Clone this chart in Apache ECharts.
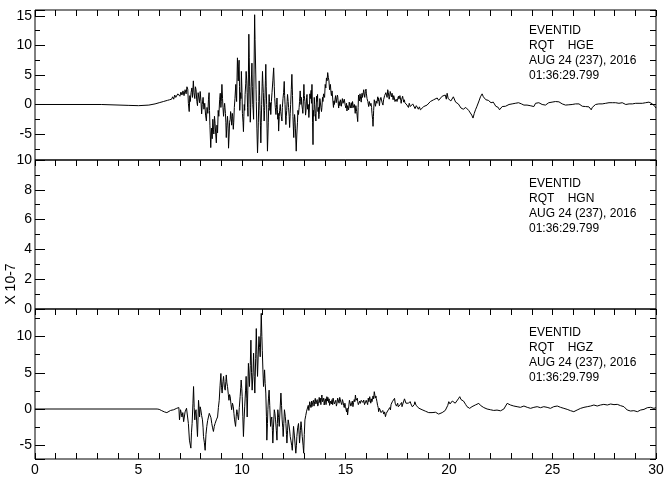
<!DOCTYPE html>
<html>
<head>
<meta charset="utf-8">
<script src="https://cdn.jsdelivr.net/npm/echarts@6.0.0/dist/echarts.min.js"></script>
<style>
html,body{margin:0;padding:0;background:#fff;}
#chart{width:672px;height:490px;}
</style>
</head>
<body>
<div id="chart"></div>
<script>
// ---- Data (time in s, amplitude in units of 10^-7) ----
const hgeSamples = [[0,0],[3.2,0],[3.25,-0.1],[4.5,-0.15],[5.0,-0.2],[5.5,-0.1],[5.8,0.1],[6.0,0.3],[6.2,0.5],[6.4,0.7],[6.5,0.8],[6.55,1.1],[6.6,0.9],[6.65,1.3],[6.7,0.9],[6.75,1.6],[6.8,1.2],[6.85,1.1],[6.9,1.8],[6.95,1.5],[7.0,1.4],[7.05,2.1],[7.1,1.6],[7.15,2.3],[7.2,1.5],[7.25,2.5],
[7.3,1.8],[7.34,3.0],[7.38,2.6],[7.41,0.2],[7.45,-1.2],[7.48,1.5],[7.5,0.5],[7.54,2.0],[7.58,2.8],[7.61,1.2],[7.65,4.0],[7.68,2.0],[7.72,1.0],[7.75,3.0],[7.78,2.5],[7.82,0.5],[7.85,-0.2],[7.88,2.0],[7.92,1.7],[7.95,0.3],[7.98,2.2],[8.02,0.5],[8.05,-1.6],[8.08,0.0],[8.12,1.2],[8.16,-0.8],[8.2,0.2],[8.24,-1.8],[8.28,-2.8],[8.31,-0.5],[8.35,-1.5],[8.38,0.8],[8.41,2.0],[8.43,-1.0],[8.45,-3.5],[8.49,-7.3],[8.51,-5.5],[8.53,-4.0],[8.56,-5.8],[8.59,-2.5],[8.62,-4.2],[8.64,-5.0],[8.67,-2.0],[8.7,-3.2],[8.73,-5.0],[8.76,-6.5],[8.79,-3.5],[8.82,-4.8],[8.85,-1.0],[8.88,-2.0],[8.92,0.8],[8.95,1.9],[8.98,-0.5],[9.0,0.5],
[9.03,3.4],[9.06,1.0],[9.08,-0.5],[9.11,-2.0],[9.14,-0.5],[9.16,0.2],[9.2,-1.5],[9.22,-3.0],[9.24,-5.6],[9.27,-3.5],[9.3,-2.0],[9.33,-4.0],[9.35,-7.4],[9.38,-5.0],[9.4,-3.0],[9.43,-2.5],[9.45,-1.2],[9.48,-2.4],[9.5,-3.5],[9.53,-1.5],[9.55,-2.0],[9.58,-4.2],[9.6,-3.0],[9.63,-0.5],[9.66,1.0],[9.7,3.4],[9.72,1.5],[9.74,0.5],[9.76,4.5],[9.78,7.9],[9.8,6.0],[9.82,4.0],[9.84,6.5],[9.86,7.5],[9.88,3.0],[9.89,-1.0],[9.91,0.5],[9.93,2.0],[9.95,1.0],[9.97,5.6],[10.0,2.0],[10.02,-1.5],[10.05,-3.0],[10.07,-4.6],[10.09,-2.0],[10.11,0.0],[10.13,-1.0],[10.15,1.7],[10.18,3.5],[10.2,5.6],[10.23,4.0],[10.25,2.0],[10.27,-0.5],[10.29,-2.0],[10.31,5.0],[10.33,11.9],[10.35,8.0],[10.37,3.0],[10.39,0.0],[10.4,-3.0],[10.42,-0.5],[10.44,2.8],[10.46,5.0],[10.48,7.0],[10.5,3.0],[10.52,0.0],[10.54,-1.0],[10.56,-2.5],[10.58,5.0],[10.61,15.2],[10.63,11.0],[10.66,6.0],[10.68,2.5],[10.69,0.5],[10.72,-4.0],[10.75,-8.2],[10.77,-6.0],[10.79,-3.0],[10.81,0.5],[10.83,4.0],[10.85,1.5],[10.87,-1.0],[10.89,-3.5],[10.91,-6.5],[10.93,-3.0],[10.95,0.0],[10.97,3.0],[10.99,5.6],[11.01,3.5],[11.03,2.0],[11.05,-0.5],[11.07,-2.8],[11.09,-1.0],[11.11,1.0],[11.13,4.0],[11.15,6.8],[11.17,3.0],[11.19,0.0],[11.21,-4.0],[11.23,-7.9],[11.25,-5.5],[11.27,-3.0],[11.29,-0.5],[11.31,1.7],[11.33,0.5],[11.35,-1.0],[11.37,0.3],[11.39,-1.7],[11.42,0.5],[11.45,2.0],[11.49,4.0],[11.53,6.2],[11.56,3.0],[11.58,1.0],[11.61,-0.5],[11.64,-1.7],[11.67,0.0],[11.69,1.1],[11.71,-0.8],[11.73,-2.5],[11.75,-1.5],[11.77,-4.5],[11.8,-2.0],[11.82,-1.0],[11.85,0.0],[11.87,-1.2],[11.9,-2.0],[11.93,-2.8],[11.95,-0.5],[11.98,1.0],[12.01,2.0],[12.04,3.9],[12.06,1.5],[12.08,0.0],[12.1,-1.8],[12.12,-3.4],[12.14,-2.0],[12.16,-1.0],[12.18,0.5],[12.2,1.7],[12.23,0.5],[12.25,-0.5],[12.28,-2.0],[12.3,-3.9],[12.33,-1.5],[12.35,0.0],[12.38,2.5],[12.41,5.1],[12.44,1.5],[12.46,-2.0],[12.48,-3.8],[12.5,-5.6],[12.52,-3.0],[12.54,-1.7],[12.56,-2.5],[12.58,-4.0],[12.6,-6.0],[12.62,-7.9],[12.65,-5.0],[12.68,-3.0],[12.7,-1.0],[12.73,-1.7],[12.76,-0.5],[12.78,0.5],[12.81,2.3],[12.83,1.0],[12.85,0.0],[12.87,1.2],[12.89,0.0],[12.92,-0.8],[12.94,-1.5],[12.97,1.0],[12.99,3.4],[13.01,1.5],
[13.04,0.5],[13.07,-1.8],[13.09,-1.1],[13.12,1.2],[13.14,1.7],[13.17,-0.8],[13.2,0.0],[13.23,-2.2],[13.25,-1.1],[13.28,1.8],[13.3,1.0],[13.34,2.4],[13.36,0.2],[13.38,3.4],[13.41,-3.0],[13.43,-6.8],[13.45,-1.0],[13.47,-2.0],[13.49,1.2],[13.51,0.0],[13.54,-1.5],[13.57,-2.8],[13.6,1.4],[13.62,0.5],[13.65,1.7],[13.67,-1.2],[13.69,-0.5],[13.71,-2.4],[13.73,-1.7],[13.76,1.0],[13.78,0.8],[13.81,1.1],[13.84,-1.2],[13.86,-0.5],[13.89,1.2],[13.91,0.5],[13.94,1.8],[13.96,2.0],[13.99,1.2],[14.02,3.4],[14.05,2.8],[14.08,4.5],[14.11,4.0],[14.14,5.4],[14.17,4.6],[14.2,4.0],[14.23,2.5],[14.27,3.4],[14.3,2.0],[14.32,1.5],[14.35,2.3],[14.38,1.1],[14.4,0.2],[14.42,-0.5],[14.44,0.6],[14.46,0.0],[14.49,0.8],[14.52,1.5],[14.55,0.3],[14.59,0.5],[14.61,1.6],[14.63,1.2],[14.65,0.1],[14.67,-0.6],[14.69,0.5],[14.71,0.8],[14.73,-0.2],[14.75,0.8],[14.78,0.3],[14.8,-0.3],[14.83,0.6],[14.85,1.0],[14.88,0.2],[14.91,0.0],[14.94,0.9],[14.96,0.6],[14.99,-0.2],[15.02,-0.6],[15.05,0.2],
[15.07,-1.1],[15.1,-0.2],[15.12,-0.3],[15.15,-0.9],[15.18,0.4],[15.2,0.2],[15.23,-0.6],[15.25,-0.4],[15.28,0.3],[15.31,-0.6],[15.34,0.5],[15.36,0.3],[15.38,-0.5],[15.4,-0.8],[15.43,0.0],[15.47,-1.5],[15.5,-0.2],[15.52,-0.5],[15.54,-1.2],[15.56,-1.8],[15.59,-2.9],[15.61,-0.5],[15.63,1.6],[15.66,1.0],[15.68,0.6],[15.7,1.8],[15.72,1.5],[15.74,0.8],[15.76,0.4],[15.78,1.4],[15.8,1.9],[15.82,1.2],[15.84,1.0],[15.86,2.0],[15.88,2.5],[15.9,1.8],[15.93,1.2],[15.96,2.2],[15.99,2.6],[16.01,1.8],[16.04,1.0],[16.06,1.3],[16.08,0.5],[16.1,0.8],[16.12,-0.35],[16.15,0.5],[16.17,0.8],[16.2,-0.2],[16.23,0.2],[16.26,-0.5],[16.28,-1.5],[16.31,-2.5],[16.33,-3.7],[16.35,-2.0],[16.36,-1.0],[16.39,0.8],[16.42,0.2],[16.45,-0.3],[16.48,0.6],[16.52,0.2],[16.54,0.9],[16.56,1.3],[16.58,0.6],[16.6,1.1],[16.62,0.4],[16.64,-0.2],[16.66,0.6],[16.68,0.5],[16.71,1.2],[16.74,1.0],[16.77,0.3],[16.81,-0.1],[16.84,0.8],[16.86,0.6],[16.89,1.5],[16.92,1.3],[16.95,2.0],[16.98,1.8],[17.01,1.2],[17.04,2.5],[17.07,2.0],[17.09,1.4],[17.11,0.9],[17.13,1.3],[17.16,2.2],[17.19,2.0],[17.22,1.3],[17.25,1.9],[17.28,1.2],[17.3,0.8],[17.33,1.5],[17.36,1.1],[17.39,0.5],[17.42,0.2],[17.45,0.9],[17.49,0.5],[17.52,1.0],[17.56,1.4],[17.58,0.9],[17.6,0.6],[17.63,1.5],[17.65,1.3],[17.67,0.7],[17.69,0.2],[17.71,0.8],[17.73,0.5],[17.76,1.4],[17.78,1.2],[17.81,0.4],[17.84,0.8],[17.87,0.3],[17.9,0.1],[17.93,0.5],[17.97,-0.1],
[18.04,-0.5],[18.08,0.2],[18.13,-0.35],[18.2,-0.6],[18.25,0.1],[18.29,-0.1],[18.36,-0.7],[18.42,-0.2],[18.46,-0.35],[18.52,-0.8],[18.57,-0.4],[18.62,-0.9],[18.7,-0.6],[18.78,-0.35],[18.86,-0.6],[18.94,-0.1],[19.02,0.2],[19.1,0.5],[19.18,0.3],[19.26,0.8],[19.34,0.6],[19.43,1.1],[19.5,0.7],[19.59,0.8],[19.67,1.4],[19.75,1.2],[19.82,1.6],[19.87,0.9],[19.91,1.9],[19.96,1.0],[20.04,1.3],[20.09,0.6],[20.15,0.8],[20.21,1.3],[20.26,1.1],[20.32,0.4],[20.39,0.5],[20.45,0.1],[20.52,-0.1],[20.58,-0.6],[20.63,-0.35],[20.69,-0.8],[20.75,-0.9],[20.81,-0.5],[20.87,-0.6],[20.95,-1.0],[21.03,-1.2],[21.1,-1.8],[21.16,-2.3],[21.22,-1.5],[21.28,-0.9],[21.34,-0.4],[21.39,-0.1],[21.45,0.6],[21.52,1.3],[21.56,1.0],[21.6,1.8],[21.66,1.3],[21.71,1.2],[21.78,0.8],[21.84,1.1],[21.9,0.7],[21.97,0.8],[22.03,0.3],[22.08,0.5],[22.14,0.4],[22.2,0.2],[22.26,-0.3],[22.32,-0.6],[22.38,-0.5],[22.44,-0.9],[22.5,-0.6],[22.57,-0.35],[22.65,-0.2],[22.73,-0.3],[22.81,-0.1],[22.9,0.0],[22.97,-0.2],[23.05,0.1],[23.13,-0.1],[23.2,0.2],[23.28,0.0],[23.36,0.3],[23.45,0.5],[23.5,0.1],[23.55,0.4],[23.62,-0.1],[23.7,0.2],[23.77,-0.1],[23.85,0.0],[23.92,-0.2],[24.0,-0.1],[24.1,-0.35],[24.18,0.2],[24.26,0.0],[24.34,0.3],[24.42,0.2],[24.5,0.0],[24.58,0.1],[24.66,-0.1],[24.74,0.1],[24.82,0.3],[24.9,0.2],[24.98,0.4],[25.06,0.3],[25.14,0.5],[25.22,0.3],[25.31,0.45],[25.39,0.2],[25.47,0.1],[25.55,0.0],[25.63,-0.1],[25.71,0.05],[25.79,-0.05],[25.87,0.1],[25.95,0.0],[26.03,0.2],[26.11,0.1],[26.2,0.2],[26.28,0.1],[26.36,-0.1],[26.44,-0.3],[26.52,-0.2],[26.6,-0.35],[26.68,-0.5],[26.76,-0.4],[26.83,-0.7],[26.87,-0.9],[26.92,-0.5],[27.0,-0.3],[27.08,0.0],[27.16,-0.2],[27.24,0.1],[27.32,-0.1],[27.4,0.1],[27.49,-0.1],[27.57,0.2],[27.65,0.1],[27.73,0.3],[27.81,0.5],[27.89,0.3],[27.97,0.2],[28.05,0.3],[28.13,0.0],[28.21,0.2],[28.29,0.1],[28.37,0.3],[28.46,0.2],[28.54,0.0],[28.62,0.2],[28.7,0.1],[28.78,-0.1],[28.86,0.1],[28.94,0.3],[29.02,0.2],[29.1,0.4],[29.18,0.2],[29.26,0.3],[29.34,0.2],[29.42,0.5],[29.5,0.3],[29.58,0.2],[29.66,0.4],[29.75,0.3],[29.83,0.1],[29.91,0.0],[29.96,-0.4],[30.0,-0.6]];

const hgnSamples = []; // HGN trace: nothing visible in the reference panel

const hgzSamples = [[0,0],[5.9,0],[6.0,-0.05],[6.1,-0.2],[6.25,-0.4],[6.37,-0.5],[6.45,-0.3],[6.55,-0.2],[6.62,-0.35],[6.7,-0.1],[6.78,-0.25],[6.85,0.1],[6.9,-0.1],[6.95,0.2],[6.98,-1.5],[7.03,-0.1],[7.07,-0.6],[7.1,-1.1],[7.14,-0.5],[7.18,-1.75],[7.25,-0.4],[7.32,0.1],[7.37,0.1],[7.41,-2.0],[7.46,-4.3],[7.53,-5.4],[7.56,-3.2],[7.59,-2.0],[7.63,0.8],[7.66,3.1],[7.69,0.2],[7.72,-1.5],[7.75,-0.4],[7.78,-0.1],[7.82,-2.2],[7.85,-3.8],[7.88,-1.0],[7.9,1.2],[7.93,0.0],[7.95,-1.1],[7.98,0.3],[8.01,-0.1],[8.05,-0.9],[8.09,-1.5],[8.12,-2.6],[8.14,-3.8],[8.18,-4.6],[8.22,-5.7],[8.26,-3.5],[8.3,-2.4],[8.34,-1.6],[8.38,-1.1],[8.42,-0.6],[8.46,-0.4],[8.5,-1.2],[8.54,-2.0],[8.58,-2.6],[8.62,-3.1],[8.66,-2.4],[8.7,-2.0],[8.76,-1.5],[8.82,-1.1],[8.86,0.2],[8.9,1.2],[8.94,3.2],[8.98,4.9],[9.01,3.0],[9.04,2.2],[9.08,3.8],[9.11,4.5],[9.15,3.0],[9.19,2.6],[9.22,3.8],[9.24,4.7],[9.27,3.6],[9.3,3.1],[9.34,2.0],[9.37,1.2],[9.4,2.0],[9.43,1.7],[9.47,0.6],[9.5,-0.1],[9.54,0.8],[9.58,0.3],[9.61,-0.6],[9.64,-1.5],[9.69,-2.4],[9.72,-1.0],[9.75,-0.1],[9.79,-0.8],[9.83,-1.5],[9.87,0.2],[9.91,1.7],[9.94,3.0],[9.96,4.0],[9.99,2.8],[10.01,1.7],[10.04,-1.0],[10.07,-3.8],[10.1,-1.5],[10.13,0.3],[10.17,2.5],[10.2,4.5],[10.23,1.5],[10.25,-1.1],[10.28,2.5],[10.31,6.3],[10.34,4.5],[10.36,3.1],[10.4,6.0],[10.43,9.5],[10.46,5.0],[10.49,2.6],[10.53,5.0],[10.56,7.7],[10.59,4.5],[10.62,2.2],[10.66,7.0],[10.69,11.1],[10.72,7.5],[10.75,4.5],[10.79,8.0],[10.82,10.0],[10.85,8.5],[10.88,7.2],[10.91,10.5],[10.93,13.2],[10.96,10.0],[10.98,8.1],[11.01,5.4],[11.04,3.1],[11.07,4.2],[11.09,5.4],[11.12,3.5],[11.15,2.2],[11.18,-1.0],[11.2,-4.3],[11.23,-2.0],[11.25,-0.1],[11.28,1.5],[11.31,2.6],[11.34,0.5],[11.38,-2.4],[11.41,-1.5],[11.44,-1.1],[11.47,-3.0],[11.49,-4.7],[11.52,-2.5],[11.56,-0.1],[11.59,-0.6],[11.62,-1.5],[11.66,-3.0],[11.69,-4.3],[11.71,-2.0],[11.73,-0.1],[11.77,-1.2],[11.8,-2.4],[11.84,0.0],[11.88,2.2],[11.91,0.5],[11.94,-1.5],[11.97,-2.6],[11.99,-3.8],[12.02,-2.0],[12.05,-0.1],[12.09,-1.0],[12.12,-2.0],[12.15,-3.5],[12.17,-4.7],[12.2,-3.0],[12.23,-1.5],[12.27,-2.2],[12.3,-2.9],[12.33,-3.8],[12.36,-4.3],[12.4,-5.0],[12.43,-5.7],[12.46,-4.0],[12.49,-2.4],[12.53,-3.6],[12.56,-4.7],[12.6,-6.1],[12.63,-5.0],[12.65,-3.8],[12.69,-2.6],[12.73,-2.0],[12.76,-3.5],[12.78,-4.7],[12.82,-3.0],[12.85,-1.75],[12.88,-2.6],[12.91,-3.8],[12.95,-5.0],[12.98,-6.1],[13.01,-3.5],[13.04,-1.5],[13.08,-0.9],[13.12,-0.3],
[13.17,-0.14],[13.2,0.5],[13.23,-0.2],[13.27,1.0],[13.3,0.6],[13.33,0.2],[13.36,1.1],[13.38,0.32],[13.41,0.9],[13.45,1.2],[13.48,0.4],[13.51,1.0],[13.54,1.47],[13.57,0.7],[13.6,0.6],[13.63,1.3],[13.66,0.4],[13.7,0.78],[13.73,1.6],[13.76,0.9],[13.78,1.5],[13.81,0.6],[13.84,1.6],[13.86,1.93],[13.89,1.0],[13.92,0.8],[13.95,1.5],[13.97,0.55],[14.0,1.1],[14.03,1.4],[14.06,0.6],[14.1,1.7],[14.13,1.1],[14.15,1.6],[14.18,0.9],[14.21,1.4],[14.23,0.5],[14.26,0.32],[14.29,1.1],[14.32,0.7],[14.35,1.3],[14.38,0.6],[14.4,1.5],[14.43,1.24],[14.46,0.7],[14.5,0.5],[14.53,1.2],[14.56,0.4],[14.59,0.78],[14.62,1.5],[14.66,1.4],[14.69,0.8],[14.72,1.6],[14.75,1.47],[14.78,0.9],[14.82,0.6],[14.85,1.3],[14.88,1.01],[14.91,0.5],[14.94,0.2],[14.97,0.8],[15.0,0.32],[15.03,0.5],[15.05,-0.4],[15.08,0.1],[15.1,-0.83],[15.13,-0.1],[15.16,0.4],[15.19,1.2],[15.23,1.01],[15.26,0.4],[15.3,0.5],[15.33,1.1],[15.36,0.32],[15.39,0.9],[15.42,1.3],[15.45,1.0],[15.48,1.93],[15.51,1.2],[15.54,1.0],[15.57,1.5],[15.59,1.01],[15.62,0.6],[15.66,0.5],[15.69,1.1],[15.72,0.78],[15.76,1.2],[15.8,1.4],[15.84,0.9],[15.88,1.24],[15.92,0.6],[15.96,0.7],[16.0,1.2],[16.04,1.01],[16.07,0.6],[16.1,1.5],[16.13,1.0],[16.17,1.7],[16.2,1.2],[16.22,0.8],[16.25,1.4],[16.28,1.01],[16.31,1.5],[16.33,1.8],[16.36,1.4],[16.39,2.39],[16.42,1.9],[16.44,1.5],[16.47,1.8],[16.49,1.47],[16.52,1.0],[16.55,0.5],[16.58,0.2],[16.6,-0.37],[16.64,0.1],[16.68,-0.1],[16.72,-0.5],[16.76,-0.37],[16.8,-0.2],[16.85,-0.7],[16.89,-0.4],[16.93,-1.06],[16.97,-0.6],[17.0,-0.5],[17.04,-0.6],[17.07,-0.1],[17.1,-0.2],[17.14,0.2],[17.17,-0.14],[17.2,0.6],[17.23,0.5],[17.26,1.0],[17.29,0.78],[17.33,1.2],[17.37,1.47],[17.4,0.8],[17.43,0.9],[17.46,0.4],[17.49,0.55],[17.52,0.8],[17.55,0.3],[17.58,0.5],[17.61,0.09],[17.64,0.6],[17.68,0.5],[17.71,0.9],[17.73,0.32],[17.77,0.7],[17.8,0.8],[17.85,1.4],[17.89,1.24],[17.92,0.8],[17.95,0.7],[17.98,1.0],[18.0,0.55],[18.03,0.8],[18.06,0.9],[18.1,0.6],[18.13,1.01],[18.16,0.7],[18.2,0.5],[18.23,0.3],[18.26,0.09],[18.29,0.4],[18.32,0.6],[18.35,1.0],[18.38,0.78],[18.41,0.5],[18.44,0.4],[18.49,0.32],
[18.55,0.1],[18.62,0.09],[18.7,-0.1],[18.78,-0.14],[18.86,-0.3],[18.94,-0.37],[19.02,-0.5],[19.1,-0.6],[19.18,-0.5],[19.26,-0.69],[19.35,-0.45],[19.43,-0.5],[19.5,-0.7],[19.59,-0.83],[19.67,-0.5],[19.75,-0.37],[19.82,-0.2],[19.88,-0.14],[19.94,0.5],[19.99,1.01],[20.05,0.7],[20.1,0.78],[20.16,1.1],[20.23,1.24],[20.3,0.8],[20.39,0.87],[20.45,1.4],[20.52,1.7],[20.58,1.3],[20.63,1.47],[20.7,1.1],[20.75,1.01],[20.81,0.6],[20.87,0.32],[20.94,0.2],[21.0,0.09],[21.05,0.3],[21.11,0.32],[21.19,0.45],[21.27,0.55],[21.35,0.7],[21.44,0.78],[21.52,0.5],[21.6,0.32],[21.68,0.2],[21.76,0.09],[21.84,0.0],[21.92,-0.14],[22.0,-0.1],[22.08,-0.05],[22.16,-0.2],[22.24,-0.23],[22.32,-0.15],[22.41,-0.14],[22.49,-0.25],[22.57,-0.23],[22.65,0.0],[22.73,0.23],[22.81,0.78],[22.89,0.6],[22.97,0.55],[23.05,0.45],[23.13,0.41],[23.21,0.35],[23.29,0.32],[23.37,0.25],[23.45,0.23],[23.53,0.35],[23.62,0.41],[23.7,0.3],[23.78,0.23],[23.86,0.15],[23.94,0.09],[24.02,0.15],[24.1,0.23],[24.18,0.3],[24.26,0.32],[24.34,0.25],[24.42,0.18],[24.5,0.25],[24.58,0.32],[24.66,0.28],[24.74,0.23],[24.82,0.15],[24.9,0.09],[24.98,0.2],[25.06,0.32],[25.14,0.38],[25.23,0.41],[25.31,0.3],[25.39,0.23],[25.47,0.15],[25.55,0.09],[25.63,0.0],[25.71,-0.05],[25.79,-0.15],[25.87,-0.23],[25.95,-0.3],[26.03,-0.37],[26.11,-0.5],[26.19,-0.14],[26.28,0.0],[26.36,0.09],[26.44,0.18],[26.52,0.23],[26.6,0.28],[26.68,0.32],[26.76,0.38],[26.84,0.41],[26.92,0.5],[27.0,0.55],[27.08,0.45],[27.16,0.41],[27.24,0.5],[27.32,0.55],[27.4,0.6],[27.48,0.64],[27.56,0.58],[27.65,0.55],[27.73,0.62],[27.81,0.69],[27.89,0.63],[27.97,0.6],[28.05,0.65],[28.13,0.64],[28.21,0.55],[28.29,0.46],[28.37,0.4],[28.45,0.32],[28.53,0.1],[28.61,-0.14],[28.69,-0.2],[28.77,-0.28],[28.85,-0.25],[28.93,-0.23],[29.01,-0.3],[29.1,-0.37],[29.18,-0.3],[29.26,-0.14],[29.34,-0.1],[29.42,-0.05],[29.5,0.1],[29.58,0.18],[29.66,0.2],[29.74,0.23],[29.82,0.15],[29.9,0.09],[29.96,0.18],[30.0,0.18]];

const componentNames = ['HGE', 'HGN', 'HGZ'];
const stationName = 'RQT';
const eventName = 'EVENTID';
const dateLabel = 'AUG 24 (237), 2016';
const timeLabel = '01:36:29.799';
const unitLabel = 'X 10-7';
const timeRange = [0, 30];
const yRanges = [[-9.4, 16], [0, 10], [-6.9, 13.8]];

// ---- Chart ----
const FONT = "'Liberation Sans',Arial,sans-serif";
const chart = echarts.init(document.getElementById('chart'), null, {renderer: 'canvas'});

const grids = [
  {left: 35, right: 16, top: 10, height: 150},
  {left: 35, right: 16, top: 160, height: 149},
  {left: 35, right: 16, top: 309, height: 150}
].map(g => Object.assign(g, {show: true, borderColor: '#000', borderWidth: 1, backgroundColor: 'transparent', containLabel: false}));

function xAx(gridIndex, position, showLabel) {
  return {
    type: 'value', gridIndex, position, min: timeRange[0], max: timeRange[1], interval: 1,
    axisLine: {show: false, onZero: false}, splitLine: {show: false},
    axisTick: {show: true, inside: true, length: 6, lineStyle: {color: '#000', width: 1}},
    axisLabel: {show: showLabel, color: '#000', fontSize: 14, fontFamily: FONT, margin: 4,
      formatter: v => (Math.abs(v % 5) < 1e-9 ? String(v) : '')}
  };
}
function is5(v) { return Math.abs(v - Math.round(v / 5) * 5) < 1e-6; }
function yAx(gridIndex, position, range, extra) {
  const left = position === 'left';
  const base = {
    type: 'value', gridIndex, position, min: range[0], max: range[1],
    axisLine: {show: false, onZero: false}, splitLine: {show: false},
    axisTick: {show: true, inside: true, length: left ? 10 : 6, lineStyle: {color: '#000', width: 1}},
    minorTick: {show: true, splitNumber: 2, length: left ? 5 : 6, lineStyle: {color: '#000', width: 1}},
    axisLabel: {show: left, color: '#000', fontSize: 14, fontFamily: FONT, margin: 3,
      formatter: v => (is5(v) ? String(v) : '')}
  };
  return Object.assign(base, extra || {});
}

const mid = {interval: 2};
const midLabel = {axisLabel: {show: true, color: '#000', fontSize: 14, fontFamily: FONT, margin: 3, formatter: v => String(v)}};

const annot = (top, comp) => ({
  type: 'text', left: 529, top: top, silent: true,
  style: {
    text: eventName + '\n' + stationName + '    ' + comp + '\n' + dateLabel + '\n' + timeLabel,
    fill: '#000', font: '12px ' + FONT, lineHeight: 15
  }
});

chart.setOption({
  animation: false,
  backgroundColor: '#fff',
  grid: grids,
  xAxis: [xAx(0, 'top', false), xAx(1, 'top', false), xAx(2, 'top', false), xAx(2, 'bottom', true)],
  yAxis: [
    yAx(0, 'left', yRanges[0], {splitNumber: 5}),
    yAx(0, 'right', yRanges[0], {splitNumber: 5}),
    yAx(1, 'left', yRanges[1], Object.assign({}, mid, midLabel)),
    yAx(1, 'right', yRanges[1], mid),
    yAx(2, 'left', yRanges[2], {splitNumber: 5}),
    yAx(2, 'right', yRanges[2], {splitNumber: 5})
  ],
  series: [
    {name: componentNames[0], type: 'line', xAxisIndex: 0, yAxisIndex: 0, data: hgeSamples,
      showSymbol: false, symbol: 'none', lineStyle: {color: '#000', width: 1}},
    {name: componentNames[1], type: 'line', xAxisIndex: 1, yAxisIndex: 2, data: hgnSamples,
      showSymbol: false, symbol: 'none', lineStyle: {color: '#000', width: 1}},
    {name: componentNames[2], type: 'line', xAxisIndex: 3, yAxisIndex: 4, data: hgzSamples,
      showSymbol: false, symbol: 'none', lineStyle: {color: '#000', width: 1}}
  ],
  graphic: [
    annot(23, componentNames[0]),
    annot(176, componentNames[1]),
    annot(325, componentNames[2]),
    {type: 'text', x: 11, y: 284, rotation: Math.PI / 2, silent: true,
      style: {text: unitLabel, fill: '#000', font: '14px ' + FONT, textAlign: 'center', textVerticalAlign: 'middle'}}
  ]
});
</script>
</body>
</html>
